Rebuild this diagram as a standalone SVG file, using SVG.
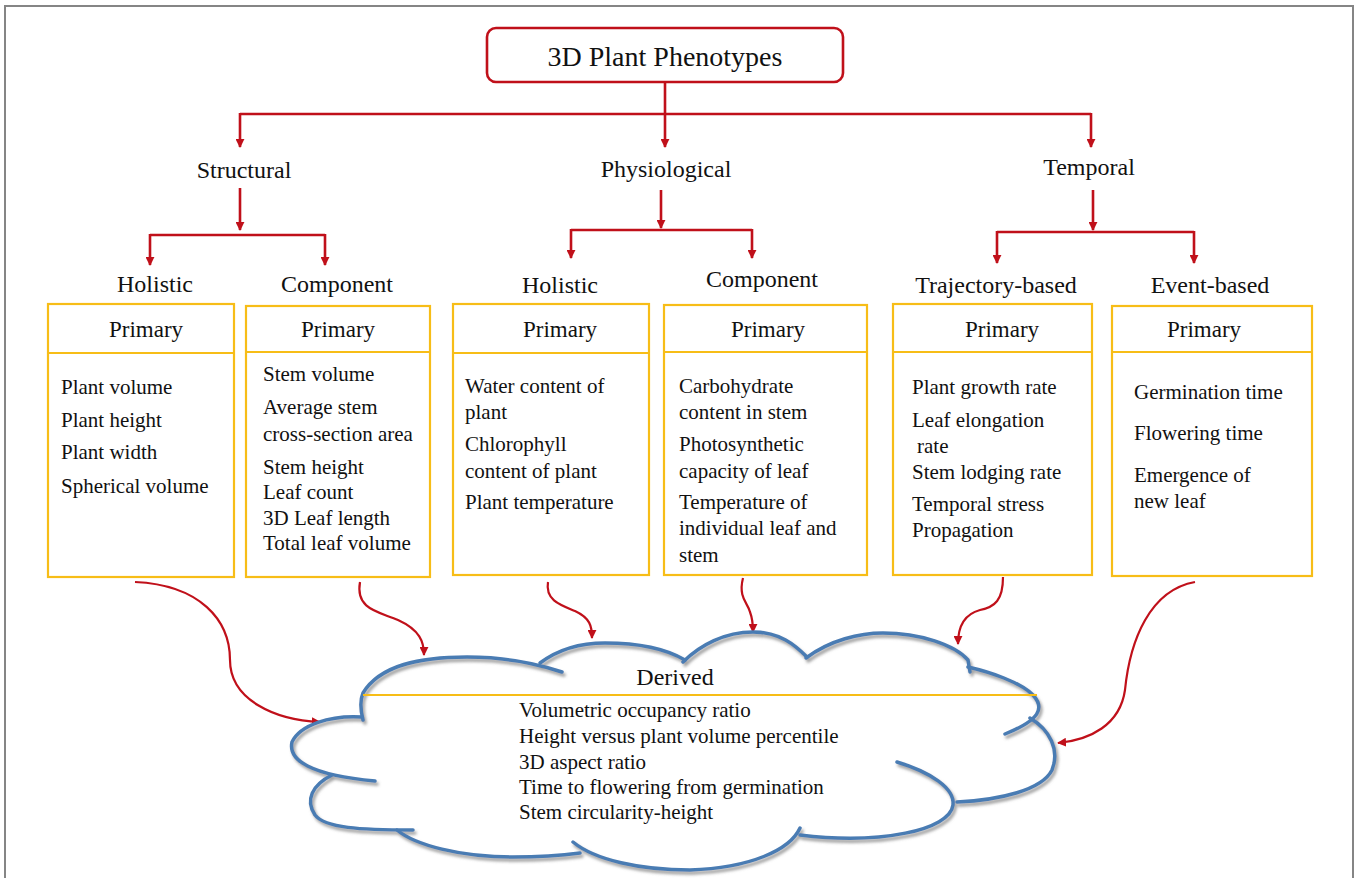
<svg xmlns="http://www.w3.org/2000/svg" width="1359" height="878" viewBox="0 0 1359 878">
<defs>
<style>
text{font-family:"Liberation Serif","Times New Roman",serif;fill:#111;}
.t{font-size:28px;text-anchor:middle;}
.lb{font-size:24px;text-anchor:middle;}
.pr{font-size:23px;text-anchor:middle;}
.b{font-size:21px;}
.box{fill:#fff;stroke:#f7bd17;stroke-width:2.2;}
.div{stroke:#f7bd17;stroke-width:2.2;fill:none;}
.red{stroke:#c0101a;stroke-width:2.6;fill:none;}
.cur{stroke:#c0101a;stroke-width:2.2;fill:none;}
.cl{stroke:#4a7bb3;stroke-width:3.5;fill:none;stroke-linecap:round;}
</style>
<marker id="ah" viewBox="0 0 10 10" refX="9" refY="5" markerWidth="9" markerHeight="9" markerUnits="userSpaceOnUse" orient="auto">
<path d="M0,0 L10,5 L0,10 z" fill="#c0101a"/>
</marker>
<filter id="sh" x="-10%" y="-10%" width="120%" height="130%">
<feDropShadow dx="2" dy="3" stdDeviation="1.5" flood-color="#888" flood-opacity="0.8"/>
</filter>
</defs>
<rect width="1359" height="878" fill="#fff"/>
<path d="M5,878 V6 H1353 V878" fill="none" stroke="#858585" stroke-width="2"/>

<g id="connectors">
<path class="red" d="M665,82 V147" marker-end="url(#ah)"/>
<path class="red" d="M240,114 H1091"/>
<path class="red" d="M240,113 V147" marker-end="url(#ah)"/>
<path class="red" d="M1091,113 V147" marker-end="url(#ah)"/>
<path class="red" d="M240,188 V230" marker-end="url(#ah)"/>
<path class="red" d="M150,235 H325"/>
<path class="red" d="M150,234 V265" marker-end="url(#ah)"/>
<path class="red" d="M325,234 V265" marker-end="url(#ah)"/>
<path class="red" d="M661,190 V228" marker-end="url(#ah)"/>
<path class="red" d="M571,230 H752"/>
<path class="red" d="M571,229 V258" marker-end="url(#ah)"/>
<path class="red" d="M752,229 V258" marker-end="url(#ah)"/>
<path class="red" d="M1093,190 V230" marker-end="url(#ah)"/>
<path class="red" d="M997,232 H1194"/>
<path class="red" d="M997,231 V263" marker-end="url(#ah)"/>
<path class="red" d="M1194,231 V263" marker-end="url(#ah)"/>
<path class="cur" d="M135,582 C200,585 230,620 230,660 C230,700 275,720 320,722" marker-end="url(#ah)"/>
<path class="cur" d="M360,582 C355,610 380,612 398,620 C420,630 424,642 424,655" marker-end="url(#ah)"/>
<path class="cur" d="M548,582 C545,600 560,605 575,611 C590,618 592,626 592,638" marker-end="url(#ah)"/>
<path class="cur" d="M743,578 C738,598 748,603 750,612 C753,620 753,625 753,632" marker-end="url(#ah)"/>
<path class="cur" d="M1003,577 C1003,600 995,607 980,610 C965,614 958,625 958,644" marker-end="url(#ah)"/>
<path class="cur" d="M1195,582 C1150,590 1130,640 1125,690 C1120,725 1090,740 1058,743" marker-end="url(#ah)"/>
</g>

<g id="root">
<rect x="487" y="28" width="356" height="54" rx="9" fill="#fff" stroke="#c0101a" stroke-width="2.6"/>
<text class="t" x="665" y="66">3D Plant Phenotypes</text>
</g>

<g id="structural"><text class="lb" x="244" y="178">Structural</text></g>
<g id="physiological"><text class="lb" x="666" y="177">Physiological</text></g>
<g id="temporal"><text class="lb" x="1089" y="175">Temporal</text></g>

<g id="s-holistic">
<text class="lb" x="155" y="292">Holistic</text>
<rect class="box" x="48" y="304" width="186" height="273"/>
<line class="div" x1="48" y1="353" x2="234" y2="353"/>
<text class="pr" x="146" y="337">Primary</text>
<text class="b" x="61" y="394">Plant volume</text>
<text class="b" x="61" y="427">Plant height</text>
<text class="b" x="61" y="459">Plant width</text>
<text class="b" x="61" y="493">Spherical volume</text>
</g>

<g id="s-component">
<text class="lb" x="337" y="292">Component</text>
<rect class="box" x="246" y="306" width="184" height="271"/>
<line class="div" x1="246" y1="352" x2="430" y2="352"/>
<text class="pr" x="338" y="337">Primary</text>
<text class="b" x="263" y="381">Stem volume</text>
<text class="b" x="263" y="414">Average stem</text>
<text class="b" x="263" y="441">cross-section area</text>
<text class="b" x="263" y="474">Stem height</text>
<text class="b" x="263" y="499">Leaf count</text>
<text class="b" x="263" y="525">3D Leaf length</text>
<text class="b" x="263" y="550">Total leaf volume</text>
</g>

<g id="p-holistic">
<text class="lb" x="560" y="293">Holistic</text>
<rect class="box" x="453" y="304" width="196" height="271"/>
<line class="div" x1="453" y1="353" x2="649" y2="353"/>
<text class="pr" x="560" y="337">Primary</text>
<text class="b" x="465" y="393">Water content of</text>
<text class="b" x="465" y="419">plant</text>
<text class="b" x="465" y="451">Chlorophyll</text>
<text class="b" x="465" y="478">content of plant</text>
<text class="b" x="465" y="509">Plant temperature</text>
</g>

<g id="p-component">
<text class="lb" x="762" y="287">Component</text>
<rect class="box" x="664" y="305" width="203" height="270"/>
<line class="div" x1="664" y1="352" x2="867" y2="352"/>
<text class="pr" x="768" y="337">Primary</text>
<text class="b" x="679" y="393">Carbohydrate</text>
<text class="b" x="679" y="419">content in stem</text>
<text class="b" x="679" y="451">Photosynthetic</text>
<text class="b" x="679" y="478">capacity of leaf</text>
<text class="b" x="679" y="509">Temperature of</text>
<text class="b" x="679" y="535">individual leaf and</text>
<text class="b" x="679" y="562">stem</text>
</g>

<g id="t-trajectory">
<text class="lb" x="996" y="293">Trajectory-based</text>
<rect class="box" x="893" y="304" width="199" height="271"/>
<line class="div" x1="893" y1="352" x2="1092" y2="352"/>
<text class="pr" x="1002" y="337">Primary</text>
<text class="b" x="912" y="394">Plant growth rate</text>
<text class="b" x="912" y="427">Leaf elongation</text>
<text class="b" x="917" y="453">rate</text>
<text class="b" x="912" y="479">Stem lodging rate</text>
<text class="b" x="912" y="511">Temporal stress</text>
<text class="b" x="912" y="537">Propagation</text>
</g>

<g id="t-event">
<text class="lb" x="1210" y="293">Event-based</text>
<rect class="box" x="1112" y="306" width="200" height="270"/>
<line class="div" x1="1112" y1="352" x2="1312" y2="352"/>
<text class="pr" x="1204" y="337">Primary</text>
<text class="b" x="1134" y="399">Germination time</text>
<text class="b" x="1134" y="440">Flowering time</text>
<text class="b" x="1134" y="482">Emergence of</text>
<text class="b" x="1134" y="508">new leaf</text>
</g>

<g id="derived">
<g filter="url(#sh)">
<path class="cl" d="M363,720 C360,708 360,700 363,693 C380,665 420,657 467,657 C500,657 535,663 562,672"/>
<path class="cl" d="M540,663 C560,648 585,643 605,643 C640,643 668,650 685,660"/>
<path class="cl" d="M683,662 C700,645 725,632 753,632 C780,632 795,645 807,657"/>
<path class="cl" d="M806,658 C830,640 860,633 883,633 C920,633 955,645 968,660 L970,672"/>
<path class="cl" d="M968,667 C990,672 1020,682 1033,695 C1045,708 1040,720 1005,734"/>
<path class="cl" d="M1030,718 C1050,730 1060,750 1052,770 C1042,790 1000,800 957,802"/>
<path class="cl" d="M897,762 C930,772 955,788 953,805 C950,830 880,845 800,835"/>
<path class="cl" d="M800,828 C790,850 750,868 690,870 C640,870 595,860 573,842"/>
<path class="cl" d="M397,830 C415,845 460,857 513,857 C545,857 565,855 580,853"/>
<path class="cl" d="M332,775 C312,785 305,800 315,815 C325,828 360,830 413,830"/>
<path class="cl" d="M362,717 C330,715 300,725 292,742 C288,760 310,775 375,781"/>
</g>
<line x1="363" y1="695" x2="1037" y2="695" stroke="#f7bd17" stroke-width="2"/>
<text class="lb" x="675" y="685">Derived</text>
<text class="b" x="519" y="717">Volumetric occupancy ratio</text>
<text class="b" x="519" y="743">Height versus plant volume percentile</text>
<text class="b" x="519" y="769">3D aspect ratio</text>
<text class="b" x="519" y="794">Time to flowering from germination</text>
<text class="b" x="519" y="819">Stem circularity-height</text>
</g>
</svg>
